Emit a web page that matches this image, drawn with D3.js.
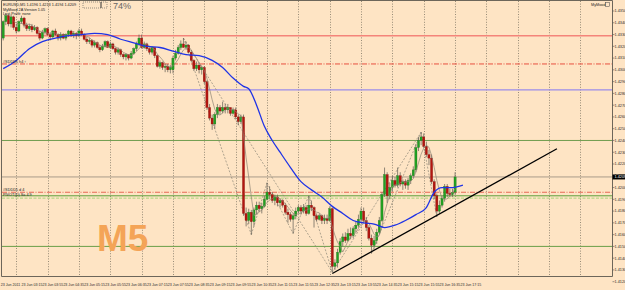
<!DOCTYPE html>
<html>
<head>
<meta charset="utf-8">
<script src="https://cdn.jsdelivr.net/npm/d3@7"></script>
<style>
  html, body { margin: 0; padding: 0; background: #fee4c4; }
  svg { display: block; font-family: "Liberation Sans", Arial, sans-serif; }
</style>
</head>
<body>
<svg id="chart" width="625" height="290"></svg>
<script>
// EURUSD M5 bars, 23 Jun 2011
const open = [1.4327,1.4341,1.4346,1.4339,1.4345,1.4336,1.4333,1.4341,1.4344,1.4338,1.4335,1.4337,1.4334,1.4336,1.4331,1.4327,1.4332,1.4335,1.4330,1.4328,1.4333,1.4330,1.4327,1.4330,1.4327,1.4330,1.4333,1.4329,1.4331,1.4329,1.4333,1.4330,1.4326,1.4324,1.4325,1.4321,1.4323,1.4319,1.4317,1.4320,1.4324,1.4319,1.4322,1.4318,1.4315,1.4317,1.4313,1.4311,1.4313,1.4310,1.4314,1.4318,1.4322,1.4327,1.4319,1.4322,1.4318,1.4315,1.4319,1.4312,1.4303,1.4306,1.4302,1.4303,1.4300,1.4300,1.4310,1.4314,1.4319,1.4322,1.4319,1.4321,1.4315,1.4308,1.4301,1.4304,1.4300,1.4302,1.4290,1.4268,1.4259,1.4254,1.4262,1.4268,1.4265,1.4268,1.4266,1.4268,1.4263,1.4266,1.4260,1.4256,1.4260,1.4178,1.4172,1.4179,1.4171,1.4181,1.4185,1.4182,1.4184,1.4190,1.4196,1.4194,1.4189,1.4192,1.4187,1.4189,1.4185,1.4179,1.4177,1.4173,1.4176,1.4180,1.4183,1.4180,1.4183,1.4178,1.4185,1.4183,1.4176,1.4173,1.4176,1.4172,1.4174,1.4172,1.4182,1.4133,1.4136,1.4145,1.4154,1.4158,1.4155,1.4161,1.4159,1.4165,1.4168,1.4173,1.4180,1.4172,1.4166,1.4157,1.4151,1.4155,1.4162,1.4172,1.4194,1.4211,1.4193,1.4200,1.4206,1.4202,1.4210,1.4203,1.4205,1.4202,1.4206,1.4210,1.4215,1.4234,1.4240,1.4243,1.4235,1.4228,1.4225,1.4205,1.4193,1.4180,1.4185,1.4191,1.4201,1.4195,1.4194,1.4196];
const high = [1.4342,1.4348,1.4347,1.4347,1.4346,1.4339,1.4342,1.4346,1.4345,1.4340,1.4339,1.4339,1.4338,1.4337,1.4333,1.4334,1.4336,1.4336,1.4332,1.4334,1.4335,1.4331,1.4332,1.4331,1.4331,1.4334,1.4334,1.4333,1.4332,1.4335,1.4335,1.4331,1.4328,1.4327,1.4326,1.4325,1.4324,1.4321,1.4322,1.4325,1.4325,1.4324,1.4323,1.4319,1.4319,1.4318,1.4314,1.4314,1.4313,1.4316,1.4319,1.4324,1.4330,1.4330,1.4324,1.4323,1.4319,1.4320,1.4319,1.4313,1.4308,1.4307,1.4305,1.4305,1.4304,1.4312,1.4317,1.4321,1.4325,1.4327,1.4324,1.4322,1.4317,1.4309,1.4307,1.4306,1.4303,1.4303,1.4291,1.4271,1.4262,1.4264,1.4271,1.4270,1.4273,1.4271,1.4271,1.4268,1.4268,1.4268,1.4262,1.4262,1.4262,1.4183,1.4182,1.4181,1.4183,1.4188,1.4188,1.4187,1.4193,1.4204,1.4201,1.4196,1.4194,1.4194,1.4191,1.4190,1.4187,1.4182,1.4179,1.4178,1.4183,1.4185,1.4185,1.4186,1.4185,1.4193,1.4189,1.4184,1.4178,1.4178,1.4177,1.4177,1.4177,1.4184,1.4183,1.4139,1.4148,1.4157,1.4161,1.4162,1.4165,1.4166,1.4167,1.4171,1.4177,1.4183,1.4183,1.4175,1.4168,1.4160,1.4159,1.4165,1.4175,1.4196,1.4217,1.4213,1.4204,1.4210,1.4209,1.4217,1.4213,1.4207,1.4207,1.4208,1.4212,1.4218,1.4237,1.4243,1.4247,1.4246,1.4239,1.4232,1.4228,1.4207,1.4195,1.4189,1.4193,1.4203,1.4203,1.4199,1.4199,1.4213];
const low = [1.4325,1.4338,1.4337,1.4336,1.4334,1.4331,1.4332,1.4339,1.4336,1.4333,1.4333,1.4332,1.4333,1.4330,1.4325,1.4326,1.4330,1.4329,1.4325,1.4327,1.4329,1.4325,1.4325,1.4326,1.4325,1.4328,1.4328,1.4327,1.4326,1.4328,1.4329,1.4325,1.4322,1.4322,1.4319,1.4319,1.4318,1.4315,1.4316,1.4319,1.4319,1.4318,1.4317,1.4313,1.4313,1.4311,1.4309,1.4308,1.4308,1.4309,1.4313,1.4316,1.4320,1.4318,1.4318,1.4316,1.4313,1.4313,1.4310,1.4302,1.4301,1.4300,1.4298,1.4298,1.4297,1.4297,1.4308,1.4313,1.4317,1.4319,1.4317,1.4314,1.4307,1.4299,1.4299,1.4297,1.4296,1.4288,1.4266,1.4257,1.4249,1.4250,1.4259,1.4262,1.4263,1.4263,1.4263,1.4261,1.4262,1.4258,1.4253,1.4254,1.4176,1.4167,1.4169,1.4160,1.4167,1.4177,1.4179,1.4178,1.4183,1.4189,1.4190,1.4187,1.4185,1.4184,1.4183,1.4183,1.4177,1.4170,1.4171,1.4161,1.4173,1.4178,1.4177,1.4178,1.4176,1.4177,1.4180,1.4166,1.4171,1.4172,1.4169,1.4169,1.4169,1.4171,1.4128,1.4130,1.4132,1.4143,1.4150,1.4153,1.4154,1.4156,1.4157,1.4162,1.4166,1.4171,1.4170,1.4163,1.4155,1.4144,1.4148,1.4152,1.4160,1.4171,1.4192,1.4187,1.4190,1.4197,1.4200,1.4200,1.4201,1.4198,1.4199,1.4198,1.4203,1.4208,1.4213,1.4231,1.4236,1.4234,1.4226,1.4219,1.4203,1.4190,1.4175,1.4178,1.4183,1.4188,1.4192,1.4192,1.4192,1.4194];
const close = [1.4341,1.4346,1.4339,1.4345,1.4336,1.4333,1.4341,1.4344,1.4338,1.4335,1.4337,1.4334,1.4336,1.4331,1.4327,1.4332,1.4335,1.4330,1.4328,1.4333,1.4330,1.4327,1.4330,1.4327,1.4330,1.4333,1.4329,1.4331,1.4329,1.4333,1.4330,1.4326,1.4324,1.4325,1.4321,1.4323,1.4319,1.4317,1.4320,1.4324,1.4319,1.4322,1.4318,1.4315,1.4317,1.4313,1.4311,1.4313,1.4310,1.4314,1.4318,1.4322,1.4327,1.4319,1.4322,1.4318,1.4315,1.4319,1.4312,1.4303,1.4306,1.4302,1.4303,1.4300,1.4302,1.4310,1.4314,1.4319,1.4322,1.4319,1.4321,1.4315,1.4308,1.4301,1.4304,1.4300,1.4302,1.4290,1.4268,1.4259,1.4254,1.4262,1.4268,1.4265,1.4268,1.4266,1.4268,1.4263,1.4266,1.4260,1.4256,1.4260,1.4178,1.4172,1.4179,1.4171,1.4181,1.4185,1.4182,1.4184,1.4190,1.4196,1.4194,1.4189,1.4192,1.4187,1.4189,1.4185,1.4179,1.4177,1.4173,1.4176,1.4180,1.4183,1.4180,1.4183,1.4178,1.4185,1.4183,1.4176,1.4173,1.4176,1.4172,1.4174,1.4172,1.4182,1.4133,1.4136,1.4145,1.4154,1.4158,1.4155,1.4161,1.4159,1.4165,1.4168,1.4173,1.4180,1.4172,1.4166,1.4157,1.4151,1.4155,1.4162,1.4172,1.4194,1.4211,1.4193,1.4200,1.4206,1.4202,1.4210,1.4203,1.4205,1.4202,1.4206,1.4210,1.4215,1.4234,1.4240,1.4243,1.4235,1.4228,1.4225,1.4205,1.4193,1.4180,1.4185,1.4191,1.4201,1.4195,1.4194,1.4196,1.4209];

// slow moving average (bar index, price)
const maBars = [0,5,10,15,20,25,30,35,40,45,50,55,60,65,70,75,80,84,88,92,94,97,100,103,106,110,114,118,122,126,130,134,138,142,146,150,154,158,162,165,168,172,176];
const maVals = [1.4301,1.4308,1.4318,1.4324,1.4327,1.4329,1.4330,1.4331,1.4330,1.4326,1.4323,1.4320,1.4319,1.4316,1.4313,1.4312,1.4308,1.4302,1.4293,1.4286,1.4284,1.4270,1.4252,1.4240,1.4230,1.4217,1.4205,1.4198,1.4192,1.4184,1.4178,1.4172,1.4170,1.4169,1.4166,1.4168,1.4172,1.4177,1.4183,1.4196,1.4200,1.4200,1.4202];

// horizontal levels drawn by the EA
const levels = [1.4329, 1.4305, 1.4283, 1.4240, 1.4196, 1.4193, 1.4191, 1.4150];

// dashed swing lines: [fromBar, fromPrice, toBar, toPrice]
const swings = [
  [69, 1.4327, 95, 1.4160], [69, 1.4327, 126, 1.4128], [95, 1.4160, 101, 1.4204],
  [101, 1.4204, 111, 1.4161], [111, 1.4161, 117, 1.4193], [117, 1.4193, 126, 1.4128],
  [126, 1.4128, 160, 1.4247], [141, 1.4144, 160, 1.4247], [160, 1.4247, 166, 1.4175]
];

const trendBars = [126, 212];
const trendPrices = [1.4127, 1.4233];

const priceTicks = [1.4350,1.4340,1.4330,1.4320,1.4310,1.4300,1.4290,1.4280,1.4270,1.4260,1.4250,1.4240,1.4230,1.4220,1.4210,1.4200,1.4190,1.4180,1.4170,1.4160,1.4150,1.4140,1.4130,1.4120];
const timeLabels = ['23 Jun 2011','23 Jun 03:15','23 Jun 03:55','23 Jun 04:35','23 Jun 05:15','23 Jun 05:55','23 Jun 06:35','23 Jun 07:15','23 Jun 07:55','23 Jun 08:35','23 Jun 09:15','23 Jun 09:55','23 Jun 10:35','23 Jun 11:15','23 Jun 11:55','23 Jun 12:35','23 Jun 13:15','23 Jun 13:55','23 Jun 14:35','23 Jun 15:15','23 Jun 15:55','23 Jun 16:35','23 Jun 17:15'];

const W = 625, H = 290;
const plotRight = 612.5, plotBottom = 276.5;
const barStep = 2.612;

const svg = d3.select('#chart');
const x = d3.scaleLinear().domain([0, 1]).range([3.2, 3.2 + barStep]);
const y = d3.scaleLinear().domain([1.4120, 1.4350]).range([281.7, 11]);
const fmt = d3.format('.4f');

svg.append('rect').attr('width', W).attr('height', H).attr('fill', '#fee4c4');

const plot = svg.append('g');

// vertical grid every hour (12 bars)
const gridBars = d3.range(5, 240, 12).filter(b => x(b) < plotRight);
plot.selectAll('.grid').data(gridBars).join('line')
  .attr('x1', d => Math.round(x(d)) + 0.5).attr('x2', d => Math.round(x(d)) + 0.5)
  .attr('y1', 1).attr('y2', plotBottom)
  .attr('stroke', '#7d7563').attr('stroke-width', 0.8).attr('stroke-dasharray', '1,1.6');

// levels
const levelStyle = [
  { c: '#f4847a', w: 1.4, d: null },
  { c: '#e8503f', w: 1, d: '5,1.5,1,1.5' },
  { c: '#9a8cea', w: 1.4, d: null },
  { c: '#6f9c4e', w: 1, d: null },
  { c: '#e45a4a', w: 0.9, d: '5,1.5,1,1.5' },
  { c: '#5e9f3c', w: 1, d: null },
  { c: '#a8d47a', w: 1, d: '3,1.5' },
  { c: '#6a9f48', w: 1, d: null }
];
plot.selectAll('.level').data(levels).join('line')
  .attr('x1', 2).attr('x2', plotRight)
  .attr('y1', d => y(d)).attr('y2', d => y(d))
  .attr('stroke', (d, i) => levelStyle[i].c)
  .attr('stroke-width', (d, i) => levelStyle[i].w)
  .attr('stroke-dasharray', (d, i) => levelStyle[i].d);

// bid line
const last = close[close.length - 1];
plot.append('line')
  .attr('x1', 2).attr('x2', plotRight).attr('y1', y(last)).attr('y2', y(last))
  .attr('stroke', '#a99b89').attr('stroke-width', 1);

// swing lines
plot.selectAll('.swing').data(swings).join('line')
  .attr('x1', d => x(d[0])).attr('y1', d => y(d[1]))
  .attr('x2', d => x(d[2])).attr('y2', d => y(d[3]))
  .attr('stroke', '#8c8677').attr('stroke-width', 0.7).attr('stroke-dasharray', '2,1.5');

// candles
const bars = d3.range(close.length);
plot.selectAll('.wick').data(bars).join('line')
  .attr('x1', i => x(i)).attr('x2', i => x(i))
  .attr('y1', i => y(high[i])).attr('y2', i => y(low[i]))
  .attr('stroke', '#5f5a52').attr('stroke-width', 0.7);
plot.selectAll('.body').data(bars).join('rect')
  .attr('x', i => x(i) - 1.1).attr('width', 2.2)
  .attr('y', i => y(Math.max(open[i], close[i])))
  .attr('height', i => Math.max(0.8, Math.abs(y(open[i]) - y(close[i]))))
  .attr('fill', i => close[i] >= open[i] ? '#22a122' : '#b3150f')
  .attr('stroke', i => close[i] >= open[i] ? '#1d6a1d' : '#7a1410')
  .attr('stroke-width', 0.3);

// fast MA indicator (5-bar simple average of closes)
const fast = bars.filter(i => i >= 4).map(i => [i, d3.mean(close.slice(i - 4, i + 1))]);
plot.append('path').datum(fast)
  .attr('d', d3.line().x(d => x(d[0])).y(d => y(d[1])))
  .attr('fill', 'none').attr('stroke', '#8e8474').attr('stroke-width', 0.7);

// slow MA
plot.append('path').datum(maBars.map((b, i) => [b, maVals[i]]))
  .attr('d', d3.line().x(d => x(d[0])).y(d => y(d[1])).curve(d3.curveMonotoneX))
  .attr('fill', 'none').attr('stroke', '#1f33e6').attr('stroke-width', 1.3);

// trend line
plot.append('line')
  .attr('x1', x(trendBars[0])).attr('y1', y(trendPrices[0]))
  .attr('x2', x(trendBars[1])).attr('y2', y(trendPrices[1]))
  .attr('stroke', '#000').attr('stroke-width', 1.3);

// big timeframe watermark
svg.append('text').attr('x', 97).attr('y', 251)
  .attr('font-size', 37).attr('font-weight', 'bold').attr('fill', '#f4a457')
  .text('M5');

// frame
svg.append('path')
  .attr('d', `M1.5,${plotBottom}V0.5H${plotRight}V${plotBottom}H1.5`)
  .attr('fill', 'none').attr('stroke', '#6d665a').attr('stroke-width', 1);

// price axis
const ax = svg.append('g').attr('font-size', 3.8).attr('fill', '#2a2a2a');
ax.selectAll('line').data(priceTicks).join('line')
  .attr('x1', plotRight).attr('x2', plotRight + 2)
  .attr('y1', d => y(d)).attr('y2', d => y(d)).attr('stroke', '#555').attr('stroke-width', 0.6);
ax.selectAll('text').data(priceTicks).join('text')
  .attr('x', 614.5).attr('y', d => y(d) + 1.4).text(d => fmt(d));
ax.append('rect').attr('x', plotRight).attr('y', y(last) - 2.5).attr('width', 13).attr('height', 5).attr('fill', '#000');
ax.append('text').attr('x', 614.5).attr('y', y(last) + 1.4).attr('fill', '#fff').text(fmt(last));

// time axis
const tx = svg.append('g').attr('font-size', 3.6).attr('fill', '#2a2a2a');
tx.selectAll('text').data(timeLabels).join('text')
  .attr('x', (d, i) => x(i * 8) - 2.5).attr('y', 286).text(d => d);

// info texts
const info = svg.append('g').attr('font-size', 3.8).attr('fill', '#222');
info.append('text').attr('x', 3).attr('y', 6).text('EURUSD,M5  1.4196 1.4213 1.4194 1.4209');
info.append('text').attr('x', 3).attr('y', 10.5).text('MyMood 2A Version 1.05');
info.append('text').attr('x', 3).attr('y', 15).text('Last Profit: none');
info.append('text').attr('x', 3).attr('y', y(levels[1]) - 1).text('#SDDD5 h4 ↑');
info.append('text').attr('x', 3).attr('y', y(levels[4]) - 1).text('#SDDD5 d 4');
info.append('text').attr('x', 3).attr('y', y(levels[5]) + 0.5).text('PIVOT(D) Sa 4.9');
info.append('text').attr('x', 591).attr('y', 5.5).text('MyMood');
info.append('rect').attr('x', 605.5).attr('y', 2.3).attr('width', 4).attr('height', 4)
  .attr('fill', 'none').attr('stroke', '#444').attr('stroke-width', 0.5);

// progress box
svg.append('rect').attr('x', 83).attr('y', 2).attr('width', 24).attr('height', 6)
  .attr('fill', 'none').attr('stroke', '#555').attr('stroke-width', 0.6).attr('stroke-dasharray', '1,1');
svg.append('line').attr('x1', 101).attr('x2', 101).attr('y1', 2).attr('y2', 8)
  .attr('stroke', '#333').attr('stroke-width', 1);
svg.append('text').attr('x', 113).attr('y', 9).attr('font-size', 9).attr('fill', '#666').text('74%');
</script>
</body>
</html>
